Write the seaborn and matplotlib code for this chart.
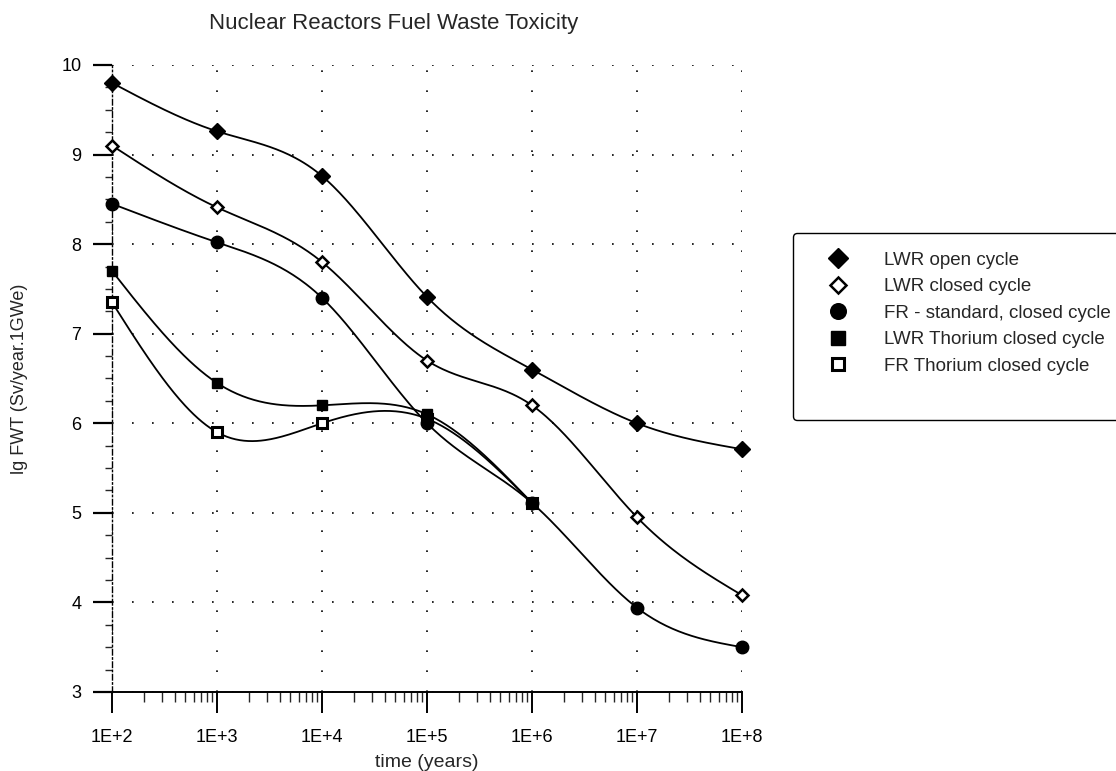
#!/usr/bin/env python3
"""
Nuclear reactors fuel waste toxicity vs time, log time axis with smooth curves.
"""

import numpy as np
import matplotlib

matplotlib.use("Agg")
import matplotlib.pyplot as plt
from matplotlib.lines import Line2D
from matplotlib.ticker import FixedLocator, LogLocator, NullFormatter, MultipleLocator
import seaborn as sns

# Data
time_years = [1e2, 1e3, 1e4, 1e5, 1e6, 1e7, 1e8]
time_labels = ["1E+2", "1E+3", "1E+4", "1E+5", "1E+6", "1E+7", "1E+8"]

lwr_open = [9.80, 9.26, 8.76, 7.41, 6.60, 6.00, 5.71]
lwr_closed = [9.10, 8.41, 7.80, 6.70, 6.20, 4.95, 4.08]
fr_standard = [8.45, 8.02, 7.40, 6.00, 5.11, 3.94, 3.50]
# thorium curves stop where they merge with the FR curve
thorium_time = [1e2, 1e3, 1e4, 1e5, 1e6]
lwr_thorium = [7.70, 6.45, 6.20, 6.10, 5.11]
fr_thorium = [7.35, 5.90, 6.00, 6.05, 5.11]

series_names = [
    "LWR open cycle",
    "LWR closed cycle",
    "FR - standard, closed cycle",
    "LWR Thorium closed cycle",
    "FR Thorium closed cycle",
]


def natural_spline(xs, ys, n=300):
    """Smooth curve through the points (in log10 time), like the original plot."""
    x = np.log10(np.asarray(xs, dtype=float))
    y = np.asarray(ys, dtype=float)
    m = len(x)
    h = np.diff(x)
    A = np.zeros((m, m))
    r = np.zeros(m)
    A[0, 0] = 1.0
    A[-1, -1] = 1.0
    for i in range(1, m - 1):
        A[i, i - 1] = h[i - 1]
        A[i, i] = 2 * (h[i - 1] + h[i])
        A[i, i + 1] = h[i]
        r[i] = 3 * ((y[i + 1] - y[i]) / h[i] - (y[i] - y[i - 1]) / h[i - 1])
    c = np.linalg.solve(A, r)
    b = (y[1:] - y[:-1]) / h - h * (2 * c[:-1] + c[1:]) / 3
    d = (c[1:] - c[:-1]) / (3 * h)
    xx = np.linspace(x[0], x[-1], n)
    idx = np.clip(np.searchsorted(x, xx, side="right") - 1, 0, m - 2)
    dx = xx - x[idx]
    yy = y[idx] + b[idx] * dx + c[idx] * dx**2 + d[idx] * dx**3
    return 10**xx, yy


sns.set_style("ticks")
plt.rcParams["font.family"] = ["Liberation Sans", "DejaVu Sans"]

fig = plt.figure(figsize=(11.16, 7.71), dpi=100)
ax = fig.add_axes([0.1004, 0.1025, 0.5645, 0.8132])

styles = [
    dict(marker="D", ms=8, mfc="black", mec="black", mew=1.0),
    dict(marker="D", ms=6.5, mfc="white", mec="black", mew=1.8),
    dict(marker="o", ms=9, mfc="black", mec="black", mew=1.0),
    dict(marker="s", ms=7.5, mfc="black", mec="black", mew=1.0),
    dict(marker="s", ms=7, mfc="white", mec="black", mew=2.2),
]
all_series = [
    (time_years, lwr_open),
    (time_years, lwr_closed),
    (time_years, fr_standard),
    (thorium_time, lwr_thorium),
    (thorium_time, fr_thorium),
]

for (xs, ys), st in zip(all_series, styles):
    sx, sy = natural_spline(xs, ys)
    sns.lineplot(x=sx, y=sy, ax=ax, color="black", lw=1.3, sort=False, zorder=3)

# markers drawn last, thorium first so the FR circle sits on top at 1E+6
for (xs, ys), st in reversed(list(zip(all_series, styles))):
    ax.plot(xs, ys, linestyle="none", clip_on=False, zorder=5, **st)

ax.set_xscale("log")
ax.set_xlim(1e2, 1e8)
ax.set_ylim(3, 10)

ax.xaxis.set_major_locator(FixedLocator(time_years))
ax.set_xticklabels(time_labels)
ax.xaxis.set_minor_locator(LogLocator(base=10, subs=np.arange(2, 10)))
ax.xaxis.set_minor_formatter(NullFormatter())
ax.yaxis.set_major_locator(MultipleLocator(1))
ax.yaxis.set_minor_locator(MultipleLocator(0.25))

ax.tick_params(axis="both", which="major", labelsize=13, color="black", labelcolor="black")
ax.tick_params(axis="x", which="major", direction="out", length=15, width=1.4, pad=12)
ax.tick_params(axis="x", which="minor", direction="out", length=7, width=1.0)
ax.tick_params(axis="y", which="major", direction="out", length=14, width=1.6, pad=8)
ax.tick_params(axis="y", which="minor", direction="out", length=5, width=1.0)

ax.grid(True, which="major", color="black", linestyle=(0, (1, 11)), linewidth=1.2)

for side in ["top", "right"]:
    ax.spines[side].set_visible(False)
ax.spines["bottom"].set_color("black")
ax.spines["bottom"].set_linewidth(1.4)
ax.spines["left"].set_color("black")
ax.spines["left"].set_linewidth(1.0)
ax.spines["left"].set_linestyle((0, (4, 2, 1, 2)))

ax.set_xlabel("time (years)", fontsize=14)
ax.xaxis.set_label_coords(0.5, -0.099)
ax.set_ylabel("lg FWT (Sv/year.1GWe)", fontsize=13)
ax.yaxis.set_label_coords(-0.133, 0.5)

fig.text(0.353, 0.970, "Nuclear Reactors Fuel Waste Toxicity", fontsize=16,
         ha="center", va="center")

handles = [
    Line2D([], [], linestyle="none", **dict(st, ms=st["ms"] * 1.25))
    for st in styles
]
# the original box leaves one empty row of space under the last entry
handles.append(Line2D([], [], linestyle="none"))
labels = series_names + [""]

leg = fig.legend(
    handles,
    labels,
    loc="upper left",
    bbox_to_anchor=(793 / 1116, 1 - 233 / 771),
    bbox_transform=fig.transFigure,
    fontsize=13.5,
    frameon=True,
    fancybox=True,
    borderpad=1.0,
    handlelength=2.8,
    handletextpad=1.07,
    labelspacing=0.5,
    borderaxespad=0,
)
leg.get_frame().set_edgecolor("black")
leg.get_frame().set_linewidth(1.0)
leg.get_frame().set_alpha(1)

fig.savefig("out.png", dpi=100, facecolor="white")
plt.close(fig)
